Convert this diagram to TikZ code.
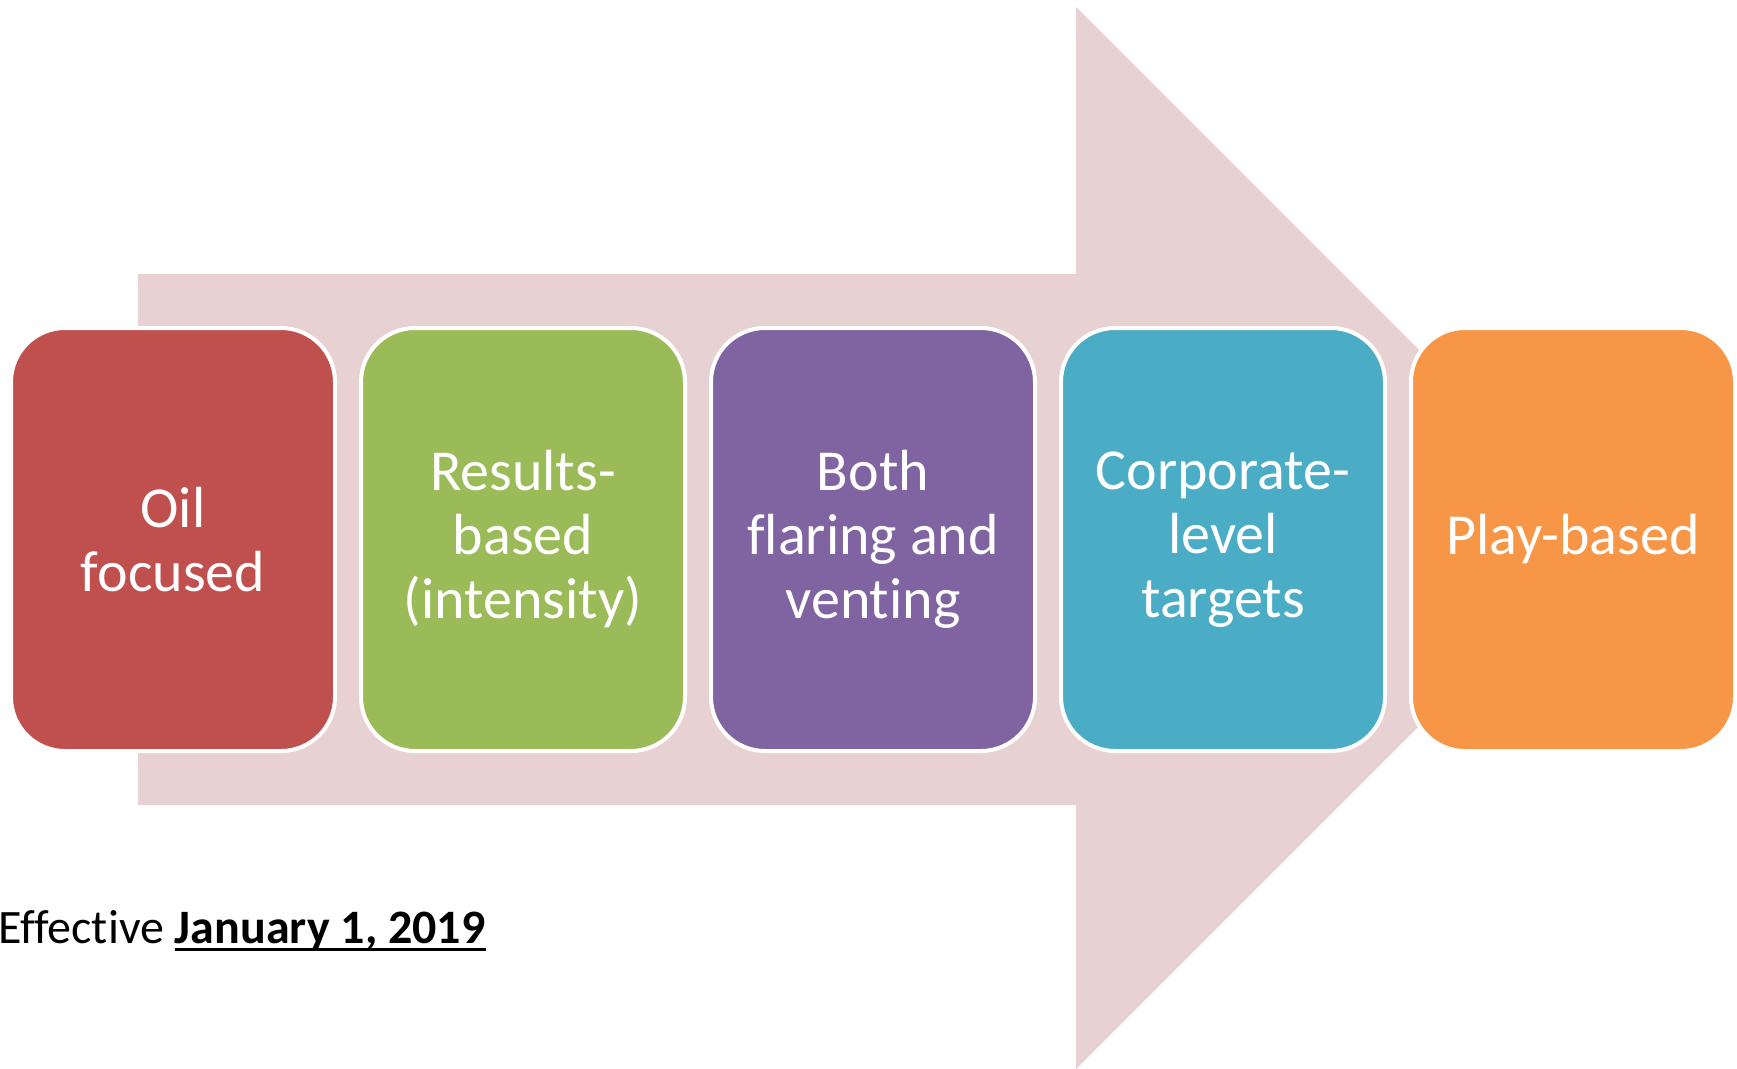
\documentclass[tikz,border=0pt]{standalone}
\usepackage{fontspec}
\setmainfont{Carlito}[Ligatures={NoCommon,NoRare,NoContextual}]
\definecolor{arrowpink}{HTML}{E8D1D2}
\definecolor{cred}{HTML}{C0504D}
\definecolor{cgreen}{HTML}{9BBB59}
\definecolor{cpurple}{HTML}{8064A2}
\definecolor{ccyan}{HTML}{4BACC6}
\definecolor{corange}{HTML}{F79646}
\newcommand\myul[1]{\setbox0\hbox{#1}\rlap{\rule[-8pt]{\wd0}{3pt}}\box0}
\tikzset{
  stagebox/.style={draw=white, line width=4pt, rounded corners=54pt,
    minimum width=324pt, minimum height=423pt, inner sep=0pt,
    text=white, align=center,
    font=\fontsize{58}{64}\selectfont},
}
\begin{document}
\begin{tikzpicture}[x=1pt,y=-1pt]
\useasboundingbox (0,0) rectangle (1737,1068);
\fill[arrowpink] (138,274) -- (1076,274) -- (1076,7) -- (1607,538) -- (1076,1069) -- (1076,805) -- (138,805) -- cycle;
\node[stagebox, fill=cred]    (b1) at (173,539.5)  {Oil\\focused};
\node[stagebox, fill=cgreen]  (b2) at (523,539.5)  {Results-\\based\\(intensity)};
\node[stagebox, fill=cpurple] (b3) at (873,539.5)  {Both\\flaring and\\venting};
\node[stagebox, fill=ccyan]   (b4) at (1223,539.5) {Corporate-\\level\\targets};
\node[stagebox, fill=corange] (b5) at (1573,539.5) {Play-based};
\node[anchor=base west, inner sep=0pt, font=\fontsize{48}{58}\selectfont] (eff) at (-2,943) {Effective \myul{\bfseries January 1, 2019}};
\end{tikzpicture}
\end{document}
